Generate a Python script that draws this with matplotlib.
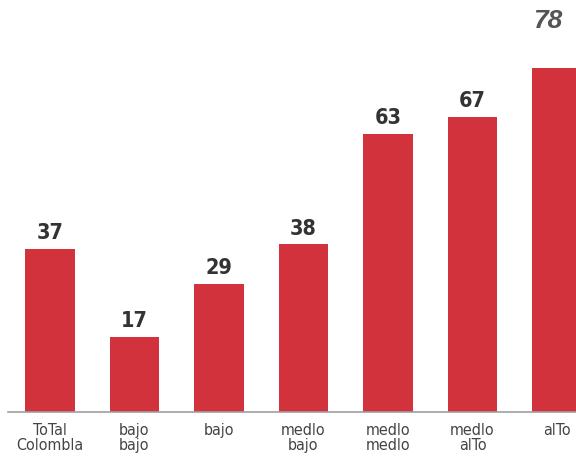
import numpy as np
from matplotlib import pyplot as plt

categories = ['ToTal\nColombla', 'bajo\nbajo', 'bajo', 'medlo\nbajo',
              'medlo\nmedlo', 'medlo\nalTo', 'alTo']
values = [37, 17, 29, 38, 63, 67, 78]

narrow = ['DejaVu Sans']


def main():
    fig = plt.figure(figsize=(5.76, 4.61), dpi=100)
    # axes: baseline at pixel 412, 4.41 px per unit
    ax = fig.add_axes([8 / 576, 49 / 461, 568 / 576, 392 / 461])
    x = np.arange(len(values))
    bars = ax.bar(x, values, width=0.59, color='#d1323b', zorder=2)
    ax.set_xlim(-0.497, 6.225)
    ax.set_ylim(0, 392 / 4.41)

    for b, v in zip(bars[:-1], values[:-1]):
        ax.text(b.get_x() + b.get_width() / 2, v + 1.3, str(v),
                ha='center', va='bottom', fontsize=15.5, fontweight='bold',
                fontstretch='condensed', color='#333333', family=narrow)
    # last value sits in the top right corner
    fig.text(548 / 576, 1 - 21 / 461, str(values[-1]), ha='center', va='center',
             fontsize=19, fontweight='bold', style='italic', color='#555555',
             family=['Liberation Sans', 'DejaVu Sans'])

    for s in ['top', 'right', 'left']:
        ax.spines[s].set_visible(False)
    ax.spines['bottom'].set_color('#a0a0a0')
    ax.spines['bottom'].set_linewidth(1.2)
    ax.set_yticks([])
    ax.set_xticks(x)
    ax.set_xticklabels(categories, fontsize=11.5, color='#444444', family=narrow,
                       fontstretch='condensed', linespacing=1.0)
    ax.tick_params(axis='x', length=0, pad=8)

    fig.savefig('out.png', dpi=100)


if __name__ == '__main__':
    main()
